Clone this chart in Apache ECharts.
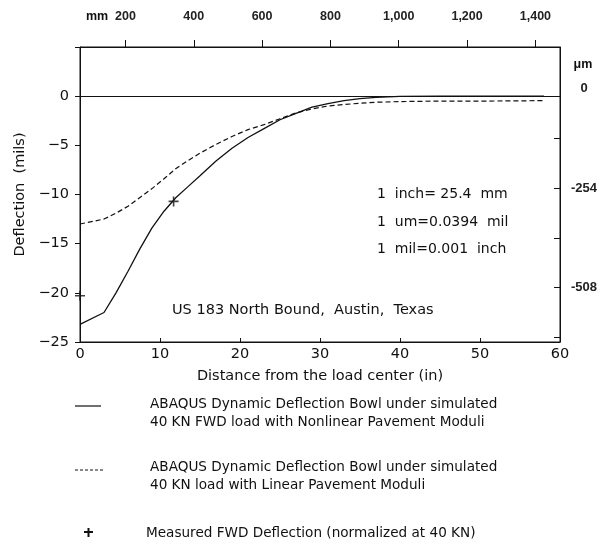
<!DOCTYPE html>
<html>
<head>
<meta charset="utf-8">
<title>Deflection bowl</title>
<script src="https://cdn.jsdelivr.net/npm/echarts@6/dist/echarts.min.js"></script>
<style>
  html, body { margin: 0; padding: 0; background: #fff; }
  #main { width: 611px; height: 546px; }
</style>
</head>
<body>
<div id="main"></div>
<script>
// distance from load center (in)
var distance = [0, 3, 4.5, 6, 7.5, 9, 10.5, 12, 13.5, 15, 17, 19, 21, 23, 25, 27, 29, 31, 33, 35, 37, 40, 45, 50, 55, 58];
// ABAQUS, nonlinear moduli (mils)
var nonlinear = [-23.2, -22.0, -20.0, -17.8, -15.5, -13.4, -11.7, -10.3, -9.2, -8.1, -6.6, -5.3, -4.2, -3.3, -2.4, -1.75, -1.12, -0.75, -0.45, -0.24, -0.12, -0.03, 0, 0, 0, 0];
// ABAQUS, linear moduli (mils)
var linear = [-13.0, -12.5, -11.9, -11.2, -10.3, -9.4, -8.4, -7.35, -6.55, -5.8, -4.9, -4.1, -3.4, -2.9, -2.3, -1.7, -1.3, -1.0, -0.85, -0.72, -0.62, -0.55, -0.5, -0.5, -0.48, -0.45];
// measured FWD
var measuredX = [0, 11.7];
var measuredY = [-20.3, -10.7];
// secondary scales
var mmTicks = [200, 400, 600, 800, 1000, 1200, 1400];
var umTicks = [-127, -254, -381, -508, -635];
var umLabels = [0, -254, -508];

var ink = '#111';
var face = '"DejaVu Sans", sans-serif';
var boldFace = '"Liberation Sans", Arial, sans-serif';

function pairs(xs, ys) {
  var out = [];
  for (var i = 0; i < xs.length; i++) out.push([xs[i], ys[i]]);
  return out;
}

function txt(text, x, y, opts) {
  opts = opts || {};
  return {
    type: 'text',
    silent: true,
    style: {
      text: text, x: x, y: y,
      fill: ink,
      font: opts.font || ('14px ' + face),
      lineHeight: opts.lineHeight || 18,
      align: opts.align || 'left', textAlign: opts.align || 'left',
      verticalAlign: 'middle', textVerticalAlign: 'middle'
    }
  };
}

function frame() {
  return { show: true, onZero: false, lineStyle: { color: ink, width: 1 } };
}

var plusPath = 'path://M0,4.2H10V5.8H0Z M4.2,0H5.8V10H4.2Z';

var myChart = echarts.init(document.getElementById('main'));

var option = {
  animation: false,
  backgroundColor: '#fff',
  // grid border gives the closed frame
  grid: { left: 80, right: 51, top: 47, bottom: 204, show: true, borderColor: ink, borderWidth: 1, backgroundColor: 'transparent' },
  xAxis: [{
    type: 'value', min: 0, max: 60, interval: 10, position: 'bottom',
    name: 'Distance from the load center (in)',
    nameLocation: 'middle', nameGap: 27,
    nameTextStyle: { color: ink, fontFamily: face, fontSize: 14.5 },
    axisLine: frame(),
    axisTick: { inside: true, length: 4, lineStyle: { color: ink } },
    axisLabel: { color: ink, fontFamily: face, fontSize: 14.5, margin: 5 },
    splitLine: { show: false }
  }, {
    type: 'value', min: 67, max: 1472, position: 'top',
    axisLine: frame(),
    axisTick: { length: 7, customValues: mmTicks, lineStyle: { color: ink } },
    axisLabel: {
      customValues: mmTicks, color: '#222', fontFamily: boldFace, fontWeight: 'bold', fontSize: 12.5, margin: 24,
      formatter: function (v) { return v.toLocaleString('en-US'); }
    },
    splitLine: { show: false }
  }],
  yAxis: [{
    type: 'value', min: -25, max: 5, interval: 5,
    name: 'Deflection  (mils)',
    nameLocation: 'middle', nameGap: 50,
    nameTextStyle: { color: ink, fontFamily: face, fontSize: 14.5 },
    axisLine: frame(),
    axisTick: { show: true, length: 5, lineStyle: { color: ink } },
    axisLabel: {
      color: ink, fontFamily: face, fontSize: 14.5, margin: 11,
      formatter: function (v) { return v > 0 ? '' : String(v).replace('-', '\u2212'); }
    },
    splitLine: { show: false }
  }, {
    type: 'value', min: -647, max: 106, position: 'right',
    axisLine: frame(),
    axisTick: { show: true, inside: true, length: 6, customValues: umTicks, lineStyle: { color: ink } },
    axisLabel: {
      customValues: umLabels, color: '#222', fontFamily: boldFace, fontWeight: 'bold', fontSize: 13,
      margin: 24, align: 'center'
    },
    splitLine: { show: false }
  }],
  series: [{
    name: 'nonlinear', type: 'line', xAxisIndex: 0, yAxisIndex: 0,
    data: pairs(distance, nonlinear),
    showSymbol: false, smooth: false,
    lineStyle: { color: ink, width: 1.3 },
    markLine: {
      silent: true, symbol: 'none', label: { show: false },
      lineStyle: { color: ink, width: 1, type: 'solid' },
      data: [{ yAxis: 0 }]
    }
  }, {
    name: 'linear', type: 'line', xAxisIndex: 0, yAxisIndex: 0,
    data: pairs(distance, linear),
    showSymbol: false,
    lineStyle: { color: ink, width: 1.2, type: [5, 3] }
  }, {
    name: 'measured', type: 'scatter', xAxisIndex: 0, yAxisIndex: 0,
    data: pairs(measuredX, measuredY),
    symbol: plusPath, symbolSize: 10,
    itemStyle: { color: ink }
  }],
  graphic: [
    txt('mm', 97, 17, { font: 'bold 12.5px ' + boldFace, align: 'center' }),
    txt('\u03bcm', 583, 65, { font: 'bold 12.5px ' + boldFace, align: 'center' }),
    txt('1  inch= 25.4  mm', 377, 194),
    txt('1  um=0.0394  mil', 377, 222),
    txt('1  mil=0.001  inch', 377, 249),
    txt('US 183 North Bound,  Austin,  Texas', 172, 310, { font: '14.5px ' + face }),
    // legend
    { type: 'line', silent: true, shape: { x1: 75, y1: 406, x2: 101, y2: 406 }, style: { stroke: ink, lineWidth: 1.2 } },
    txt('ABAQUS Dynamic Deflection Bowl under simulated\n40 KN FWD load with Nonlinear Pavement Moduli', 150, 413, { font: '13.6px ' + face }),
    { type: 'line', silent: true, shape: { x1: 75, y1: 470, x2: 103, y2: 470 }, style: { stroke: ink, lineWidth: 1, lineDash: [3, 2] } },
    txt('ABAQUS Dynamic Deflection Bowl under simulated\n40 KN load with Linear Pavement Moduli', 150, 476, { font: '13.6px ' + face }),
    { type: 'line', silent: true, shape: { x1: 84, y1: 532, x2: 93, y2: 532 }, style: { stroke: ink, lineWidth: 2 } },
    { type: 'line', silent: true, shape: { x1: 88.5, y1: 528, x2: 88.5, y2: 537 }, style: { stroke: ink, lineWidth: 2 } },
    txt('Measured FWD Deflection (normalized at 40 KN)', 146, 533, { font: '13.6px ' + face })
  ]
};

myChart.setOption(option);
</script>
</body>
</html>
